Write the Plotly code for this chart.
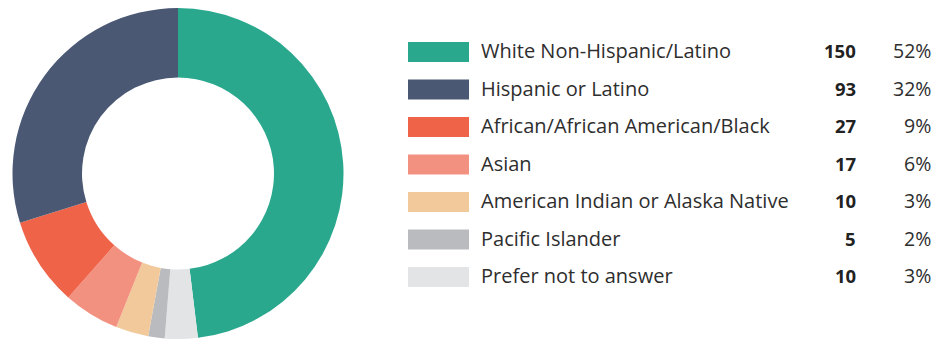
import plotly.graph_objects as go

# Respondents by race / ethnicity
categories = [
    "White Non-Hispanic/Latino",
    "Hispanic or Latino",
    "African/African American/Black",
    "Asian",
    "American Indian or Alaska Native",
    "Pacific Islander",
    "Prefer not to answer",
]
counts = [150, 93, 27, 17, 10, 5, 10]
percent_labels = ["52%", "32%", "9%", "6%", "3%", "2%", "3%"]
colors = ["#2aa88e", "#4a5873", "#ef6449", "#f39181", "#f2c99b", "#b9bbbe", "#e3e4e6"]

# slice order going clockwise from 12 o'clock
ring_order = [0, 6, 5, 4, 3, 2, 1]

W, H = 935, 339

def px(x):
    return x / W

def py(y):
    return 1 - y / H

fig = go.Figure()
fig.add_trace(go.Pie(
    labels=[categories[i] for i in ring_order],
    values=[counts[i] for i in ring_order],
    marker=dict(colors=[colors[i] for i in ring_order], line=dict(width=0)),
    hole=0.58,
    sort=False,
    direction="clockwise",
    rotation=0,
    textinfo="none",
    hoverinfo="label+value",
    showlegend=False,
    domain=dict(x=[px(12.5), px(343.5)], y=[py(339), py(8)]),
))

# legend table on the right
row_top = 42
row_step = 37.5
sw_x0, sw_x1, sw_h = 408, 469, 20
text_font = dict(family="'Open Sans', sans-serif", size=20, color="#2e2e2e")
pct_font = dict(family="'Open Sans', sans-serif", size=19.5, color="#2e2e2e")
num_font = dict(family="'Open Sans', sans-serif", size=18.5, color="#222222")

shapes = []
annotations = []
for i, (name, n, pct, c) in enumerate(zip(categories, counts, percent_labels, colors)):
    y0 = row_top + i * row_step
    yc = y0 + sw_h / 2 - 1.5
    shapes.append(dict(type="rect", xref="paper", yref="paper",
                       x0=px(sw_x0), x1=px(sw_x1), y0=py(y0 + sw_h), y1=py(y0),
                       fillcolor=c, line=dict(width=0)))
    annotations.append(dict(x=px(479), y=py(yc), xref="paper", yref="paper",
                            text=name, showarrow=False, xanchor="left", yanchor="middle",
                            font=text_font))
    annotations.append(dict(x=px(858), y=py(yc), xref="paper", yref="paper",
                            text=f"<b>{n}</b>", showarrow=False, xanchor="right", yanchor="middle",
                            font=num_font))
    annotations.append(dict(x=px(933), y=py(yc), xref="paper", yref="paper",
                            text=pct, showarrow=False, xanchor="right", yanchor="middle",
                            font=pct_font))

fig.update_layout(
    width=W, height=H,
    margin=dict(l=0, r=0, t=0, b=0),
    paper_bgcolor="white",
    plot_bgcolor="white",
    shapes=shapes,
    annotations=annotations,
)

fig.write_html("out.html")
